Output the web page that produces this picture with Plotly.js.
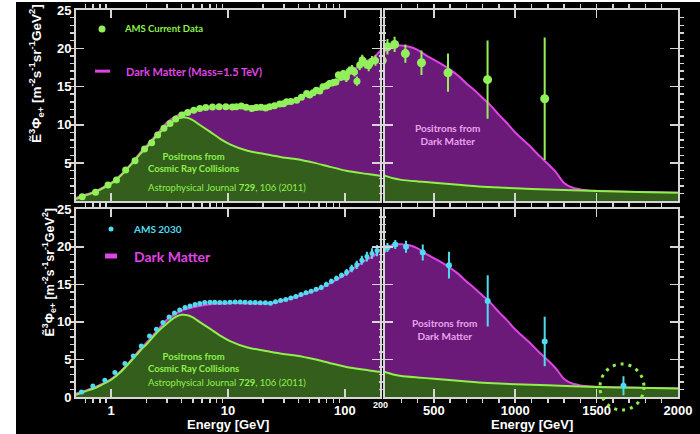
<!DOCTYPE html>
<html><head><meta charset="utf-8">
<script src="https://cdn.plot.ly/plotly-3.0.1.min.js"></script>
<style>html,body{margin:0;padding:0;background:#fff;width:700px;height:434px;overflow:hidden}
#chart{position:absolute;left:16px;top:2px;width:684px;height:432px}</style>
</head><body><div id="chart"></div>
<script>
// Cosmic-ray (background) positron model
const bgE = [0.5,0.6,0.7,0.8,1.0,1.2,1.5,1.8,2.0,2.5,3.0,3.5,4.0,4.5,5.0,5.7,7.0,8.5,10.4,14.7,20,28,39,54,75,103,143,200,250,300,400,500,650,800,1000,1200,1500,1750,2000];
const bgV = [0.3,0.75,1.1,1.5,2.3,3.3,4.9,6.3,7.0,8.7,9.8,10.6,10.95,10.9,10.6,10.0,9.1,8.2,7.45,6.6,6.2,5.8,5.5,5.05,4.5,4.0,3.65,3.35,3.0,2.8,2.6,2.43,2.15,1.9,1.7,1.55,1.34,1.22,1.12];
// Background + dark matter (Mass = 1.5 TeV)
const totE = [0.5,0.6,0.7,0.8,1.0,1.2,1.5,1.8,2.0,2.5,3.0,3.5,4.0,5.0,6.0,7.0,8.5,10,13,16,20,25,30,40,50,60,70,80,100,120,150,180,200,250,300,350,400,450,500,550,600,650,700,750,800,850,900,950,1000,1050,1100,1150,1200,1250,1300,1350,1400,1450,1500,1550,1600,1750,2000];
const totV = [0.45,0.85,1.2,1.6,2.4,3.4,5.0,6.5,7.2,8.9,10.3,11.0,11.5,11.95,12.2,12.35,12.45,12.5,12.5,12.45,12.45,12.6,12.9,13.45,13.95,14.4,14.95,15.4,16.3,17.2,18.2,18.9,19.6,20.3,20.35,20.2,19.8,19.1,18.5,17.9,17.2,16.4,15.4,14.5,13.5,12.5,11.3,10.2,9.0,8.0,7.0,5.9,4.9,3.8,2.4,1.8,1.55,1.42,1.36,1.32,1.29,1.22,1.12];
// AMS current data
const amsE = [0.565,0.735,0.94,1.11,1.33,1.60,1.93,2.22,2.50,2.83,3.19,3.57,4.02,4.52,5.09,5.73,6.45,7.36,8.39,9.58,10.9,11.8,13.0,14.3,16.0,17.5,19.2,21.0,22.7,25.0,27.7,29.8,31.7,34.5,38.7,42.5,47.1,50.0,53.5,57.0,61.0,65.0,70.0,74.0,79.0,84.0,88.0,93.0,97.0,103,109,115,121,127,134,141,150,160,171,183,215,259,325,424,587,830,1181];
const amsV = [0.6,1.17,2.13,2.78,4.09,5.3,6.83,7.65,8.66,9.53,10.18,10.74,11.27,11.6,11.9,12.13,12.27,12.31,12.35,12.35,12.31,12.35,12.45,12.3,12.14,12.25,12.3,12.2,12.35,12.5,12.7,12.75,13.0,13.05,13.2,13.6,14.1,13.9,14.2,14.5,14.4,14.96,15.1,15.4,15.5,15.6,16.5,16.2,16.7,16.2,17.0,17.2,16.9,15.7,17.8,18.5,18.0,17.7,18.3,18.4,20.2,20.5,19.3,18.1,16.8,15.9,13.4];
const amsErr = [0.15,0.15,0.15,0.15,0.15,0.15,0.15,0.15,0.15,0.15,0.15,0.15,0.15,0.15,0.15,0.15,0.15,0.15,0.15,0.15,0.15,0.15,0.15,0.15,0.15,0.15,0.15,0.15,0.15,0.15,0.15,0.15,0.15,0.15,0.15,0.3,0.3,0.3,0.3,0.3,0.3,0.3,0.45,0.45,0.45,0.45,0.45,0.45,0.45,0.6,0.6,0.6,0.6,0.6,0.65,0.65,0.65,0.7,0.7,0.7,1.0,1.0,1.2,1.6,2.5,5.1,8.0];
// AMS 2030 projection
const a30E = [0.557,0.697,0.883,1.076,1.311,1.547,1.81,2.13,2.44,2.77,3.13,3.48,3.86,4.29,4.73,5.22,5.73,6.32,7.0,7.7,8.5,9.4,10.4,11.5,12.7,14.0,15.5,17.1,18.9,20.9,23.1,25.5,28.2,31.2,34.5,38.1,42.1,46.5,51.4,56.8,62.8,69.4,76.7,84.8,93.7,103.6,114.5,126.5,139.8,154.5,170.8,188.7,215,263,329,432,593,831,1181,1665];
const a30V = [0.67,1.47,2.23,3.25,4.45,5.47,6.8,8.13,9.03,9.92,10.67,11.2,11.6,11.92,12.13,12.32,12.45,12.59,12.62,12.62,12.6,12.6,12.62,12.65,12.65,12.62,12.6,12.58,12.55,12.55,12.5,12.7,12.85,13.0,13.2,13.4,13.65,13.9,14.1,14.35,14.6,15.0,15.4,15.8,16.2,16.6,17.1,17.6,18.2,18.7,19.1,19.5,19.9,20.3,20.0,19.25,17.56,12.8,7.4,1.5];
const a30Err = [0.08,0.08,0.08,0.08,0.08,0.08,0.08,0.08,0.08,0.08,0.08,0.08,0.08,0.08,0.08,0.08,0.08,0.08,0.08,0.08,0.08,0.08,0.08,0.08,0.08,0.08,0.08,0.08,0.08,0.08,0.15,0.15,0.15,0.15,0.15,0.25,0.25,0.25,0.25,0.25,0.35,0.35,0.35,0.35,0.35,0.45,0.5,0.55,0.6,0.65,0.7,0.75,0.6,0.6,0.8,1.07,1.78,3.4,3.3,1.27];
// Tick labels
const logTickVals = [1,10,100];
const logTickText = ['1','10','100'];
const logMinor = [0.5,0.6,0.7,0.8,0.9,2,3,4,5,6,7,8,9,20,30,40,50,60,70,80,90,200];
const linTickVals = [500,1000,1500,2000];
const linTickText = ['500','1000','1500','2000'];

const FRAME = '#d6d6d6', GREENFILL = '#335e1b', GREENLINE = '#8ff04c', PURPLE = '#6c1a7a', MAGENTA = '#e044e6';
const DATAGREEN = '#92f05a', CYAN = '#50dcee', PINK = '#e9a3ec', TXTGREEN = '#8ef04c';
const subplots = [['x','y'],['x2','y2'],['x3','y3'],['x4','y4']];
const traces = [];
subplots.forEach(([xa,ya],i) => {
  traces.push({x: totE, y: totV, xaxis: xa, yaxis: ya, mode:'lines', fill:'tozeroy', fillcolor: PURPLE, line:{color: MAGENTA, width:2, shape:'spline', smoothing:0.6}, hoverinfo:'skip'});
  traces.push({x: bgE, y: bgV, xaxis: xa, yaxis: ya, mode:'lines', fill:'tozeroy', fillcolor: GREENFILL, line:{color: GREENLINE, width:2, shape:'spline', smoothing:0.6}, hoverinfo:'skip'});
  const top = i < 2;
  traces.push({x: top ? amsE : a30E, y: top ? amsV : a30V, xaxis: xa, yaxis: ya, mode:'markers',
    marker:{color: top ? DATAGREEN : CYAN, size: top ? (i===0 ? 7 : 9) : (i===2 ? 5 : 6)},
    error_y:{type:'data', array: top ? amsErr : a30Err, visible:true, color: top ? DATAGREEN : CYAN, thickness: 2, width: 0}});
});

const tickFont = {family:'Liberation Sans, Arial, sans-serif', size:13, color:'#fff', weight:'bold'};
function common(){ return {ticks:'inside', ticklen:8, tickwidth:1.5, tickcolor:FRAME, showline:true, linecolor:FRAME, linewidth:2, mirror:'ticks', showgrid:false, zeroline:false, tickfont: tickFont}; }
function logX(dom, anchor, labels){ return Object.assign(common(), {type:'log', range:[Math.log10(0.5), Math.log10(200)], domain:dom, anchor:anchor, tickmode:'array', tickvals:logTickVals, ticktext:logTickText, showticklabels:labels, minor:{tickmode:'array', tickvals:logMinor, ticklen:4, tickwidth:1.5, tickcolor:FRAME, showgrid:false}}); }
function linX(dom, anchor, labels){ return Object.assign(common(), {range:[200,2000], domain:dom, anchor:anchor, tickmode:'array', tickvals:linTickVals, ticktext:linTickText, showticklabels:labels, minor:{dtick:100, ticklen:4, tickwidth:1.5, tickcolor:FRAME, showgrid:false}}); }
function yAx(dom, anchor, labels, vals){ return Object.assign(common(), {range:[0,25], domain:dom, anchor:anchor, tickmode:'array', tickvals:vals, showticklabels:labels, minor:{dtick:1, ticklen:4, tickwidth:1.5, tickcolor:FRAME, showgrid:false}}); }

const TOP = [0.5057,1], BOT = [0, 0.485], LEFT = [0,0.505], RIGHT = [0.5133,1];
const lato = 'Lato, Open Sans, sans-serif';
const arialB = (s) => ({family:'Liberation Sans, Arial', size:s, color:'#fff', weight:'bold'});
const ytitle = 'Ẽ<sup>3</sup>Φ<sub>e+</sub> [m<sup>-2</sup>s<sup>-1</sup>sr<sup>-1</sup>GeV<sup>2</sup>]';
function ann(o){ return Object.assign({xref:'paper', yref:'paper', showarrow:false, xanchor:'center', yanchor:'middle'}, o); }
const annotations = [
  ann({x:-0.0656, y:0.836, text: ytitle, textangle:-90, font: arialB(13.5)}),
  ann({x:-0.0449, y:0.3217, text: ytitle, textangle:-90, font: arialB(12.5)}),
  ann({x:0.2525, y:-0.071, text:'Energy [GeV]', font: arialB(13)}),
  ann({x:0.757, y:-0.071, text:'Energy [GeV]', font: arialB(13)}),
  ann({xref:'x3', x:Math.log10(200), y:-0.021, text:'200', font: arialB(9)}),
  ann({x:0.0764, y:0.951, xanchor:'left', text:'AMS Current Data', font:{family:lato, size:9.5, color:TXTGREEN, weight:'bold'}}),
  ann({x:0.0797, y:0.842, xanchor:'left', text:'Dark Matter (Mass=1.5 TeV)', font:{family:lato, size:11, color:MAGENTA, weight:'bold'}}),
  ann({x:0.0914, y:0.434, xanchor:'left', text:'AMS 2030', font:{family:lato, size:10, color:CYAN, weight:'bold'}}),
  ann({x:0.0925, y:0.3643, xanchor:'left', text:'Dark Matter', font:{family:lato, size:14, color:MAGENTA, weight:'bold'}}),
  ann({x:0.1944, y:0.6047, text:'Positrons from<br>Cosmic Ray Collisions', font:{family:lato, size:9.5, color:TXTGREEN, weight:'bold'}}),
  ann({x:0.2508, y:0.5408, text:'Astrophysical Journal <b>729</b>, 106 (2011)', font:{family:lato, size:9.5, color:TXTGREEN}}),
  ann({x:0.1944, y:0.0891, text:'Positrons from<br>Cosmic Ray Collisions', font:{family:lato, size:9.5, color:TXTGREEN, weight:'bold'}}),
  ann({x:0.2508, y:0.0362, text:'Astrophysical Journal <b>729</b>, 106 (2011)', font:{family:lato, size:9.5, color:TXTGREEN}}),
  ann({x:0.6163, y:0.678, text:'Positrons from<br>Dark Matter', font:{family:lato, size:10, color:PINK, weight:'bold'}}),
  ann({x:0.6113, y:0.1739, text:'Positrons from<br>Dark Matter', font:{family:lato, size:10, color:PINK, weight:'bold'}})
];
const shapes = [
  {type:'circle', xref:'paper', yref:'paper', x0:0.0374, x1:0.049, y0:0.9419, y1:0.96, fillcolor:DATAGREEN, line:{width:0}},
  {type:'line', xref:'paper', yref:'paper', x0:0.0316, x1:0.0565, y0:0.842, y1:0.842, line:{color:MAGENTA, width:3}},
  {type:'circle', xref:'paper', yref:'paper', x0:0.054, x1:0.0623, y0:0.4276, y1:0.4406, fillcolor:CYAN, line:{width:0}},
  {type:'line', xref:'paper', yref:'paper', x0:0.0482, x1:0.0681, y0:0.3643, y1:0.3643, line:{color:MAGENTA, width:5}},
  {type:'circle', xref:'paper', yref:'paper', x0:0.8704, x1:0.9435, y0:-0.0336, y1:0.0853, line:{color:GREENLINE, width:3, dash:'3px,5px'}}
];
const layout = {
  width:684, height:432, margin:{l:60, r:22, t:8, b:37},
  paper_bgcolor:'#000', plot_bgcolor:'#000', showlegend:false,
  xaxis: logX(LEFT,'y',false), yaxis: yAx(TOP,'x',true,[5,10,15,20,25]),
  xaxis2: linX(RIGHT,'y2',false), yaxis2: yAx(TOP,'x2',false,[0,5,10,15,20,25]),
  xaxis3: logX(LEFT,'y3',true), yaxis3: yAx(BOT,'x3',true,[0,5,10,15,20,25]),
  xaxis4: linX(RIGHT,'y4',true), yaxis4: yAx(BOT,'x4',false,[0,5,10,15,20,25]),
  annotations: annotations, shapes: shapes
};
Plotly.newPlot('chart', traces, layout, {staticPlot:true, displayModeBar:false});
</script></body></html>
